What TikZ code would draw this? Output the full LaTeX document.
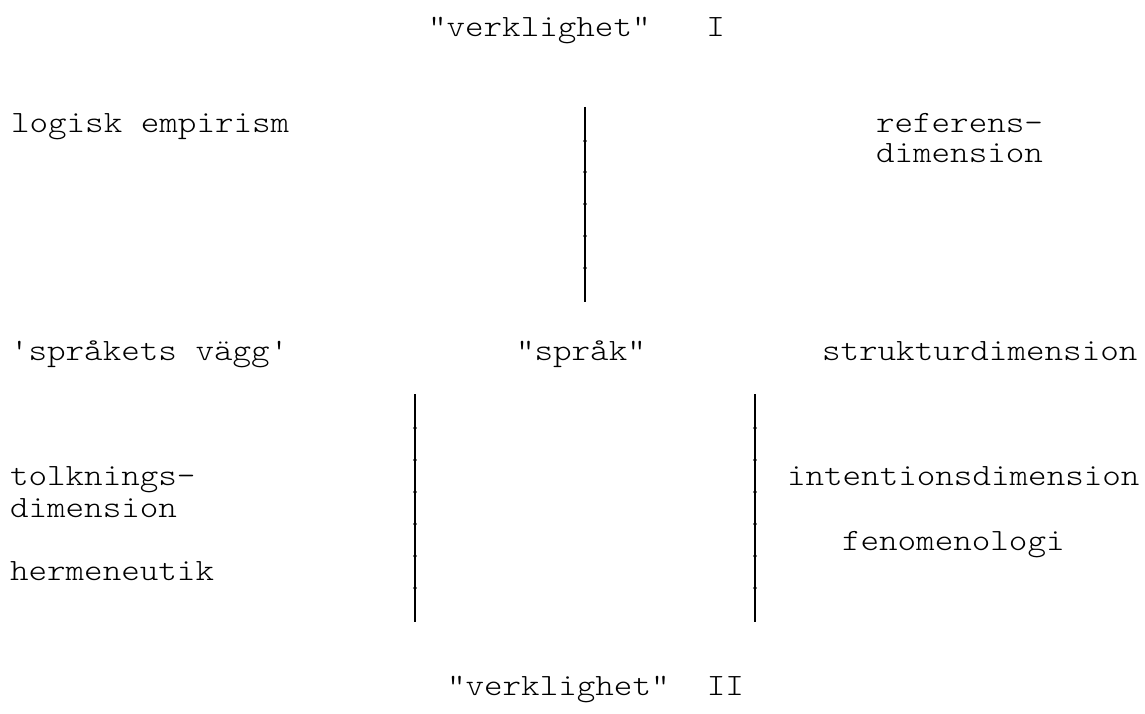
\documentclass[tikz,border=0pt]{standalone}
\usepackage{fontspec}
\newfontfamily\courlike[FakeStretch=1.14]{lmmonolt10-regular.otf}
\begin{document}
\begin{tikzpicture}[x=1pt,y=-1pt,
  lbl/.style={anchor=base west,inner sep=0pt,outer sep=0pt,font=\courlike\fontsize{31}{32}\selectfont},
  vline/.style={line width=2.6pt,black},
  joint/.style={fill=black,inner sep=0pt,minimum size=3.6pt,circle}]
\useasboundingbox (0,0) rectangle (1145,714);
\node[lbl] (v1) at (428,37) {"verklighet"\ \ \ I};
\node[lbl] (le) at (11,133) {logisk empirism};
\node[lbl] (ref1) at (876,133) {referens-};
\node[lbl] (ref2) at (876,163) {dimension};
\node[lbl] (sv) at (10,360) {'språkets vägg'};
\node[lbl] (sp) at (516,360) {"språk"};
\node[lbl] (sd) at (822,360) {strukturdimension};
\node[lbl] (tk1) at (10,485) {tolknings-};
\node[lbl] (tk2) at (10,517) {dimension};
\node[lbl] (her) at (10,580) {hermeneutik};
\node[lbl] (int) at (787,485) {intentionsdimension};
\node[lbl] (fen) at (842,550) {fenomenologi};
\node[lbl] (v2) at (447,695) {"verklighet"\ \ II};
\coordinate (a1) at (585,107);
\coordinate (a2) at (585,302);
\coordinate (b1) at (415,394);
\coordinate (b2) at (415,622);
\coordinate (c1) at (755,394);
\coordinate (c2) at (755,622);
\draw[vline] (a1) -- (a2);
\draw[vline] (b1) -- (b2);
\draw[vline] (c1) -- (c2);
\foreach \yy [count=\i] in {141,172,204,236,268}
  \node[joint] (ja\i) at (585,\yy) {};
\foreach \yy [count=\i] in {428,460,492,524,556,588} {
  \node[joint] (jb\i) at (415,\yy) {};
  \node[joint] (jc\i) at (755,\yy) {};
}
\end{tikzpicture}
\end{document}
